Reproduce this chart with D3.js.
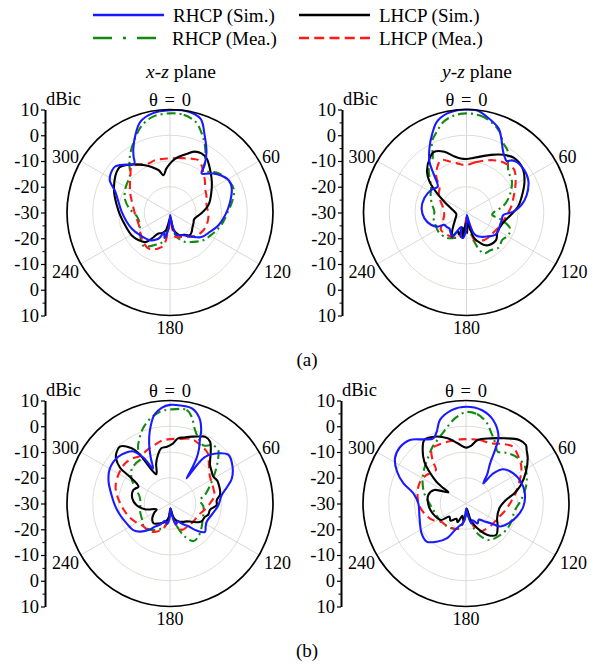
<!DOCTYPE html>
<html>
<head>
<meta charset="utf-8">
<script src="https://cdn.jsdelivr.net/npm/d3@7"></script>
<style>
  body { margin: 0; background: #fff; }
  svg { display: block; }
  text { font-family: "Liberation Serif", "Times New Roman", serif; fill: #000; }
</style>
</head>
<body>
<script>
// ---- data (theta in degrees, gain in dBic) ----
const seriesNames = ["RHCP (Sim.)", "LHCP (Sim.)", "RHCP (Mea.)", "LHCP (Mea.)"];
const planeNames = [["x", "z"], ["y", "z"]];
const figLabels = ["(a)", "(b)"];
const ringLevels = [-20, -10, 0];
const angleTicks = [0, 60, 120, 180, 240, 300];
const axisTickPos = [-40, -30, -20, -10, 0, 10, 20, 30, 40]; // labels: |p| - 30

// (a) x-z plane
const aXzRhcpSim = [[0,9.7],[9,9.9],[18,8.3],[24,3.0],[31,-2.5],[36,-7.1],[39,-10.5],[44,-9],[48,-7.4],[54,-5.5],[59,-4.3],[64,-3.9],[69,-4.3],[80,-6.3],[93,-8.6],[105,-10.6],[116,-12.8],[128,-14.5],[138,-17.4],[150,-19.8],[158,-20.5],[164,-21],[170,-25],[176,-29],[182,-27],[187,-22.5],[192,-20],[197,-22],[202,-19.5],[208,-18],[216,-16.7],[233,-15.4],[247,-13.9],[258,-12.8],[271,-11.2],[282,-9.5],[291,-7.2],[298,-3.5],[303,-2.5],[310,-2.2],[316,-4.2],[320,-5.8],[324,-6.5],[327,-4],[330,-1.5],[336,3.0],[342,7.1],[350,9.1]];
const aXzLhcpSim = [[0,-11],[5,-9.2],[9,-8.1],[17,-6],[22,-4.5],[28,-4],[34,-4.6],[42,-6.9],[54,-9.9],[67,-12.7],[79,-14.8],[91,-17.7],[99,-19.5],[106,-20.3],[114,-20],[124,-19.5],[132,-18.7],[139,-18.3],[148,-19.8],[158,-20.6],[168,-23],[176,-28],[185,-27],[193,-23],[200,-21.5],[209,-20.7],[215,-17.6],[220,-15],[229,-13.7],[239,-12.7],[254,-11.9],[267,-10.6],[278,-9.1],[290,-6.9],[299,-5.3],[307,-4],[312,-3.7],[318,-5.1],[324,-6.9],[332,-9.2],[338,-10.9],[345,-13],[350,-15.3],[355,-13]];
const aXzRhcpMea = [[0,8.5],[8,8.3],[16,6.5],[22,3],[28,-1],[34,-5.5],[39,-9.5],[44,-8],[50,-6],[60,-4.3],[70,-3.6],[80,-5.5],[92,-8],[100,-9],[110,-10.5],[120,-12],[130,-13.2],[142,-15.5],[153,-17.2],[164,-20],[172,-24],[178,-28],[186,-24],[195,-18],[203,-16.5],[212,-14.5],[220,-13.4],[230,-15],[240,-16.5],[252,-17.5],[264,-17],[276,-14],[288,-11.5],[300,-10.2],[308,-9.5],[314,-8.5],[319,-6],[324,-3.4],[330,-0.5],[336,2.5],[342,5.5],[350,7.8]];
const aXzLhcpMea = [[0,-9],[8,-8.6],[15,-8.2],[22,-7.5],[28,-6.9],[34,-8],[39,-9.6],[47,-11.5],[56,-13.5],[66,-14.5],[78,-15.5],[94,-15],[110,-15],[121,-15.5],[132,-16.5],[143,-18.2],[155,-19.5],[168,-20.4],[176,-27],[184,-24],[191,-17],[198,-15.3],[205,-14.2],[211,-13.7],[222,-14.5],[235,-16],[250,-17],[265,-16.5],[278,-15.6],[286,-14.6],[295,-13],[305,-11],[313,-9],[320,-6.8],[328,-8],[335,-9.2],[344,-8.9],[352,-9]];

// (a) y-z plane
const aYzRhcpSim = [[0,10],[6,9.8],[12,8],[21,4.9],[25,1.9],[31,-2.4],[35,-4],[38,-4.6],[41,-3.2],[45,-2.3],[52,-2.1],[58,-2.4],[64,-3.2],[74,-5.7],[82,-8.4],[89,-11.8],[94,-15.7],[102,-16],[110,-16.1],[120,-15.8],[128,-15.9],[140,-17.8],[149,-19],[156,-20],[161,-21.5],[165,-26],[172,-29],[178,-27],[183,-22],[188,-20],[193,-20.4],[199,-24],[204,-23.2],[210,-19.2],[218,-20],[227,-20.9],[234,-20.5],[241,-20.1],[244,-17.5],[251,-15.4],[262,-13.5],[275,-12.5],[289,-12.7],[302,-13.7],[307,-14.5],[312,-15],[319,-10.8],[324,-5.5],[330,-1.2],[336,3],[342,7.1],[349,9.2],[355,9.9]];
const aYzLhcpSim = [[0,-9.2],[6,-8.8],[11,-8.1],[17,-7],[23,-5.7],[28,-4.5],[33,-3.3],[41,-1.9],[52,-2.3],[62,-4.5],[74,-7.7],[84,-10],[93,-12.7],[107,-15.4],[122,-15.8],[133,-14.3],[145,-14.6],[150,-15.3],[155,-16.8],[163,-19.5],[168,-24],[173,-28],[178,-22],[183,-26],[188,-20],[194,-24],[199,-21],[205,-22],[211,-19],[218,-21],[226,-23],[240,-25],[262,-26],[280,-24.6],[296,-20.4],[304,-15.7],[310,-11.2],[316,-7.9],[326,-4.5],[332,-3.3],[340,-4.9],[348,-7.8],[354,-8.9]];
const aYzRhcpMea = [[0,8.5],[8,8],[15,6.5],[22,4],[28,0.5],[34,-1.3],[40,-5],[46,-7.3],[55,-8.5],[63,-10.5],[72,-13],[80,-15.5],[88,-19],[95,-20],[102,-16],[110,-12],[118,-11.5],[128,-12.5],[137,-11.5],[147,-12.6],[157,-12.8],[165,-18],[172,-26],[180,-28],[188,-22],[196,-20],[206,-19],[218,-17.5],[236,-16.8],[248,-17],[260,-17],[272,-17.5],[285,-16],[296,-14.5],[306,-13],[316,-9],[322,-6.5],[328,-5.2],[334,0.6],[340,3.5],[346,6.4],[353,8]];
const aYzLhcpMea = [[0,-11.6],[10,-10.2],[19,-8.7],[27,-7.2],[34,-6.1],[41,-5.5],[48,-5.1],[56,-7],[64,-9],[72,-10.8],[81,-12.2],[96,-14.6],[110,-15.8],[125,-16.9],[136,-17],[147,-17.3],[157,-18],[164,-18.9],[172,-26],[180,-28],[188,-24],[198,-20],[210,-19],[222,-18.5],[236,-18],[248,-20],[264,-21.3],[277,-21],[284,-20.5],[296,-18.5],[304,-17],[312,-15.9],[321,-11.2],[329,-8.5],[334,-7.3],[343,-9.4],[352,-11]];

// (b) x-z plane
const bXzRhcpSim = [[0,8.3],[6,8.3],[13,7.9],[19,5.1],[23,1],[25,-2.5],[28,-6],[30.5,-9.7],[32,-14],[33.5,-18.3],[35,-12],[37,-7.3],[44,-2.9],[50,-0.5],[58,-1.5],[68,-4.1],[74,-7],[81,-9.7],[92,-11.2],[105,-13.2],[116,-14.1],[123,-13.5],[129,-12.5],[135,-15],[142,-19],[150,-21],[157,-22.5],[164,-21.5],[170,-25],[176,-28],[182,-24],[188,-22],[196,-23],[205,-21],[213,-19.3],[219,-16.7],[227,-14],[234,-12.4],[245,-11.5],[257,-10.1],[268,-8.6],[278,-7.1],[290,-4.6],[300,-3],[312,-2.9],[320,-4],[325,-5.3],[330,-9.5],[334,-14.9],[337,-11],[340,-6.5],[343,-2.5],[346,1],[350,5],[355,7.3]];
const bXzLhcpSim = [[3,-6.6],[7,-4.5],[12,-3.8],[18,-2.7],[24,-1.5],[28,-0.7],[33,-1.4],[38,-4.3],[46,-8.4],[52,-9.5],[58,-10.2],[64,-9.6],[69,-9.7],[75,-9.9],[80,-10.3],[86,-11.8],[92,-11.9],[99,-14.3],[106,-14.5],[111,-15.5],[118,-15.8],[122,-16.4],[130,-19],[137,-20.5],[144,-21.2],[152,-22],[160,-23],[168,-25],[176,-28],[184,-25],[192,-23],[200,-22],[210,-21],[220,-20],[230,-21],[240,-23],[246,-24.3],[257,-20],[267,-17],[278,-15.2],[290,-14.8],[298,-16.1],[301,-14.9],[304,-10.4],[305.5,-6.3],[310,-2.6],[314,-1.2],[319,-0.6],[325,-3.7],[328,-7],[329.5,-11],[331.5,-15.2],[335,-17.5],[341,-13.5],[346,-10.6],[351,-8.3],[357,-7.9]];
const bXzRhcpMea = [[0,6.5],[10,6.9],[14,4.7],[19,0],[24,-2.5],[30,-4],[36,-2],[42,-2],[48,-5],[56,-9],[66,-13],[76,-16],[84,-18.3],[95,-17],[105,-16.5],[115,-16],[128,-14.5],[140,-13],[148,-12.8],[156,-16],[165,-22],[175,-28],[185,-25],[195,-20],[205,-19],[215,-17.5],[228,-16.5],[240,-17.5],[255,-18],[270,-18.5],[281,-18.1],[292,-16],[302,-12.5],[312,-10],[320,-9.5],[327,-9.2],[330,-5.2],[335,-2],[340,0.9],[346,3.5],[354,5.9]];
const bXzLhcpMea = [[0,-5],[10,-4.5],[18.6,-3.6],[28,-4.5],[37,-5.6],[46,-9],[56,-11.3],[66,-12],[80,-12.5],[90,-14.5],[101,-16.5],[112,-18.1],[125,-18.5],[140,-18.8],[156,-18.8],[166,-22],[175,-27],[184,-24],[195,-20],[205,-18],[213,-17],[222,-16.5],[231,-16.3],[242,-14.8],[252,-13.3],[260,-12.2],[267,-11.2],[277,-9.5],[287,-7.9],[300,-7],[312,-6.6],[320,-7.2],[329,-8.3],[336,-7.5],[345,-6.5],[352,-5.5]];

// (b) y-z plane
const bYzRhcpSim = [[0,7.6],[9.5,6.8],[18,4.1],[26,-1.2],[28.5,-6.4],[31,-11.8],[36,-16],[40.7,-19.7],[42.2,-14.2],[47.5,-10.3],[57.5,-8.2],[68,-7.1],[80,-6.8],[93,-7.7],[105,-9.7],[115,-11.8],[124,-14],[128,-17.4],[134,-20],[142,-22],[150,-21],[158,-23],[165,-22],[172,-26],[178,-28],[184,-24],[190,-22],[196,-21],[202.5,-18.9],[209,-14.5],[217.5,-11.3],[226,-8.7],[236,-9.2],[254,-11.2],[270,-11.5],[281,-9.2],[288,-4.4],[295,-0.4],[302.5,2.7],[310.4,3.7],[318.6,2.9],[326.4,-0.1],[333.4,-1.7],[337.8,0.1],[342.7,4],[351.3,6.7]];
const bYzLhcpSim = [[0,-8.3],[5,-7.5],[10.4,-4.9],[21,-2.9],[30.5,-0.6],[40,2.2],[45.7,2.5],[48.6,1.4],[53.8,-0.3],[62,-3.6],[71.4,-7.5],[78,-10.8],[85,-14.4],[98,-16.9],[115.6,-16.6],[126,-14.8],[136.4,-13.1],[145.5,-15.2],[153.3,-18.5],[158.8,-21],[165,-24],[172,-28],[180,-26],[188,-23],[196,-25],[204,-22],[212,-23],[222,-21],[231.7,-21.8],[236.6,-18.4],[253.6,-16.5],[267.7,-15.4],[282.7,-15],[293,-16.6],[302.3,-21.9],[304.5,-18.8],[306.5,-15.6],[311,-11.1],[315,-7.1],[321.8,-2.8],[326.7,-0.5],[334.7,-1.3],[344.3,-3.7],[352.1,-6.4]];
const bYzRhcpMea = [[0,5.5],[7,5],[13.7,2.7],[20,-1],[26,-4],[31.4,-6.4],[38,-5],[46,-3.5],[56.6,-2.9],[65,-4],[74.3,-5.8],[86,-8.5],[99.6,-11],[110,-11],[120.8,-11.2],[134,-12],[147.4,-13.2],[158,-17],[168,-24],[176,-28],[185,-24],[195,-20],[207,-19],[220,-18.5],[235,-18],[255.5,-17.3],[268.1,-16.1],[283.7,-13.3],[300.1,-10.5],[312,-8.5],[322,-6.5],[329.6,-4.4],[338,-2.4],[346,0.5],[353,3.5]];
const bYzLhcpMea = [[0,-5],[12,-4.8],[22.6,-4.7],[31,-3],[39.4,-1.4],[47,-2.5],[55,-3.9],[61,-5.5],[67.7,-7.6],[77,-10],[87.7,-12.5],[100,-14.5],[115,-16.4],[130,-17],[145,-17.5],[152,-17.6],[162,-21],[172,-27],[182,-25],[195,-20],[210,-19],[222,-18.5],[234,-18],[244,-15.5],[254,-13.8],[266,-12],[278.1,-11],[293.4,-10.3],[305,-11],[312,-12],[318.2,-12.5],[322,-9],[328,-5],[335,-4.8],[345,-5],[355,-5]];

// ---- layout / style ----
const W = 602, H = 664;
const R = 103;
const fontFam = '"Liberation Serif", "Times New Roman", serif';
const styles = [
  { color: "#1a1aff", dash: null, width: 2.1, legendDash: null },          // RHCP sim
  { color: "#000000", dash: null, width: 2.1, legendDash: null },          // LHCP sim
  { color: "#128a12", dash: "9,4,2,4", width: 2.1, legendDash: "19,11,3,11" }, // RHCP mea
  { color: "#ff1a1a", dash: "8,5", width: 2.1, legendDash: "10,5.25" }     // LHCP mea
];
const drawOrder = [2, 3, 1, 0];

const panels = [
  { cx: 170, cy: 212.5, axisX: 45, data: [aXzRhcpSim, aXzLhcpSim, aXzRhcpMea, aXzLhcpMea] },
  { cx: 466.5, cy: 212.5, axisX: 342, data: [aYzRhcpSim, aYzLhcpSim, aYzRhcpMea, aYzLhcpMea] },
  { cx: 170, cy: 503.5, axisX: 45, data: [bXzRhcpSim, bXzLhcpSim, bXzRhcpMea, bXzLhcpMea] },
  { cx: 466, cy: 503.5, axisX: 341, data: [bYzRhcpSim, bYzLhcpSim, bYzRhcpMea, bYzLhcpMea] }
];

const svg = d3.select("body")
  .append("svg")
  .attr("width", W)
  .attr("height", H)
  .style("background-color", "#fff");

const rScale = d3.scaleLinear().domain([-30, 10]).range([0, R]).clamp(true);

const radial = d3.lineRadial()
  .angle(d => d[0] * Math.PI / 180)
  .radius(d => rScale(d[1]))
  .curve(d3.curveCatmullRomClosed.alpha(0.5));

function drawPanel(p) {
  const g = svg.append("g").attr("transform", `translate(${p.cx},${p.cy})`);

  // grid rings
  g.selectAll(".ring")
    .data(ringLevels)
    .enter()
    .append("circle")
    .attr("class", "ring")
    .attr("r", d => rScale(d))
    .attr("fill", "none")
    .attr("stroke", "#dcd8d0")
    .attr("stroke-width", 0.9);

  // spokes
  g.selectAll(".spoke")
    .data([0, 60, 120])
    .enter()
    .append("line")
    .attr("class", "spoke")
    .attr("x1", d => -R * Math.sin(d * Math.PI / 180))
    .attr("y1", d => R * Math.cos(d * Math.PI / 180))
    .attr("x2", d => R * Math.sin(d * Math.PI / 180))
    .attr("y2", d => -R * Math.cos(d * Math.PI / 180))
    .attr("stroke", "#d4d4d4")
    .attr("stroke-width", 0.9);

  // curves
  drawOrder.forEach(i => {
    g.append("path")
      .datum(p.data[i])
      .attr("d", radial)
      .attr("fill", "none")
      .attr("stroke", styles[i].color)
      .attr("stroke-width", styles[i].width)
      .attr("stroke-linejoin", "round")
      .attr("stroke-dasharray", styles[i].dash);
  });

  // outer circle
  g.append("circle")
    .attr("r", R)
    .attr("fill", "none")
    .attr("stroke", "#000")
    .attr("stroke-width", 1.7);

  // angle labels
  g.append("text").text("θ = 0")
    .attr("x", 0).attr("y", -R - 4)
    .attr("text-anchor", "middle")
    .style("font-size", "18.5px")
    .style("word-spacing", "2px");

  const lab = angleTicks.filter(a => a !== 0);
  g.selectAll(".alab")
    .data(lab)
    .enter()
    .append("text")
    .attr("class", "alab")
    .text(d => d)
    .style("font-size", "18px")
    .attr("text-anchor", d => d === 180 ? "middle" : (d < 180 ? "start" : "end"))
    .attr("x", d => d === 180 ? 0 : (d < 180 ? (d === 60 ? 92 : 94) : -91))
    .attr("y", d => d === 180 ? R + 18.5 : (d === 60 || d === 300 ? -50 : 65.5));

  // radial axis on the left
  const yAx = d3.scaleLinear().domain([-40, 40]).range([p.cy + R, p.cy - R]);
  const axG = svg.append("g")
    .attr("transform", `translate(${p.axisX},0)`)
    .call(d3.axisLeft(yAx)
      .tickValues(axisTickPos)
      .tickFormat(v => String(Math.abs(v) - 30))
      .tickSize(4)
      .tickSizeOuter(0)
      .tickPadding(2));
  axG.selectAll("text")
    .style("font-family", fontFam)
    .style("font-size", "18.5px");
  axG.select(".domain").attr("stroke-width", 2);
  axG.selectAll(".tick line").attr("stroke-width", 1.2);

  svg.append("g")
    .attr("transform", `translate(${p.axisX},0)`)
    .call(d3.axisLeft(yAx)
      .tickValues(d3.range(-35, 40, 10))
      .tickFormat("")
      .tickSize(2.5)
      .tickSizeOuter(0))
    .call(s => s.select(".domain").remove());

  svg.append("text").text("dBic")
    .attr("x", p.axisX + 1)
    .attr("y", p.cy - R - 5)
    .style("font-size", "18.5px");
}

panels.forEach(drawPanel);

// plane titles
planeNames.forEach((pn, i) => {
  const t = svg.append("text")
    .attr("x", [181, 477][i])
    .attr("y", 78)
    .attr("text-anchor", "middle")
    .style("font-size", "19.5px");
  t.append("tspan").attr("font-style", "italic").text(pn[0]);
  t.append("tspan").text("-");
  t.append("tspan").attr("font-style", "italic").text(pn[1]);
  t.append("tspan").text(" plane");
});

// sub-figure labels
svg.selectAll(".fig")
  .data(figLabels)
  .enter()
  .append("text")
  .attr("class", "fig")
  .text(d => d)
  .attr("x", 307)
  .attr("y", (d, i) => [366, 657][i])
  .attr("text-anchor", "middle")
  .style("font-size", "19px");

// legend
const legendPos = [[93, 15], [299, 15], [93, 38], [299, 38]];
const legend = svg.append("g").attr("id", "legend");
const item = legend.selectAll(".legend-item")
  .data(seriesNames)
  .enter()
  .append("g")
  .attr("class", "legend-item")
  .attr("transform", (d, i) => `translate(${legendPos[i][0]},${legendPos[i][1]})`);

item.append("line")
  .attr("x1", 0)
  .attr("x2", (d, i) => i === 2 ? 64 : 71)
  .attr("y1", 0).attr("y2", 0)
  .attr("stroke", (d, i) => styles[i].color)
  .attr("stroke-width", 2.6)
  .attr("stroke-dasharray", (d, i) => styles[i].legendDash);

item.append("text")
  .attr("x", (d, i) => i === 2 ? 79 : 80)
  .attr("y", 6.5)
  .style("font-size", "19px")
  .text(d => d);
</script>
</body>
</html>
